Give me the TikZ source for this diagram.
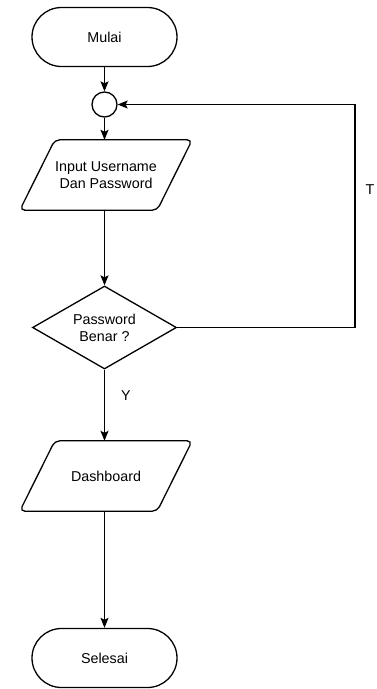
\documentclass[tikz,border=0pt]{standalone}
\usepackage{fontspec}
\setmainfont{Liberation Sans}
\usetikzlibrary{shapes.geometric,arrows.meta,calc}
\tikzset{
  base/.style={draw=black, line width=1.3pt, align=center, inner sep=0pt,
    font=\fontsize{14.3}{17}\selectfont},
  terminal/.style={base, rectangle, rounded corners=29.5pt,
    minimum width=145pt, minimum height=59pt},
  iotext/.style={rectangle, align=center, inner sep=0pt,
    font=\fontsize{14.3}{17}\selectfont, minimum width=137pt, minimum height=70pt},
  ioframe/.style={draw=black, line width=1.3pt, rounded corners=5pt},
  decision/.style={base, diamond, aspect=1.73, minimum width=144pt, minimum height=83pt},
  joint/.style={draw=black, line width=1.3pt, circle, inner sep=0pt, minimum size=25pt},
  flow/.style={line width=1.3pt, -{Stealth[length=10pt,width=8pt,inset=2pt]}},
  tag/.style={font=\fontsize{14.3}{17}\selectfont}
}
% slanted input/output frame around a text node
\newcommand{\ioshape}[1]{%
  \draw[ioframe] ($(#1.south west)+(-17.5,0)$) -- ($(#1.south east)+(-17.5,0)$)
    -- ($(#1.north east)+(17.5,0)$) -- ($(#1.north west)+(17.5,0)$) -- cycle;}
\begin{document}
\begin{tikzpicture}[x=1pt, y=-1pt]
  \useasboundingbox (0,0) rectangle (377,689);
  \node[terminal] (start) at (104.5,37) {Mulai};
  \node[joint] (merge) at (104.5,104.5) {};
  \node[iotext] (input) at (106,175) {Input Username\\Dan Password};
  \ioshape{input}
  \node[decision] (check) at (104.5,327.5) {Password\\Benar ?};
  \node[iotext] (dash) at (106,476) {Dashboard};
  \ioshape{dash}
  \node[terminal] (stop) at (104.5,658) {Selesai};
  \coordinate (back) at (355,104.5);

  \draw[flow] (start.south) -- (merge.north);
  \draw[flow] (merge.south) -- (input.north -| merge.south);
  \draw[flow] (input.south -| check.north) -- (check.north);
  \draw[flow] (check.south) -- (dash.north -| check.south);
  \draw[flow] (dash.south -| stop.north) -- (stop.north);
  \draw[flow] (check.east) -| (back) -- (merge.east);

  \node[tag] (lt) at (370,190) {T};
  \node[tag] (ly) at (126,396) {Y};
\end{tikzpicture}
\end{document}
